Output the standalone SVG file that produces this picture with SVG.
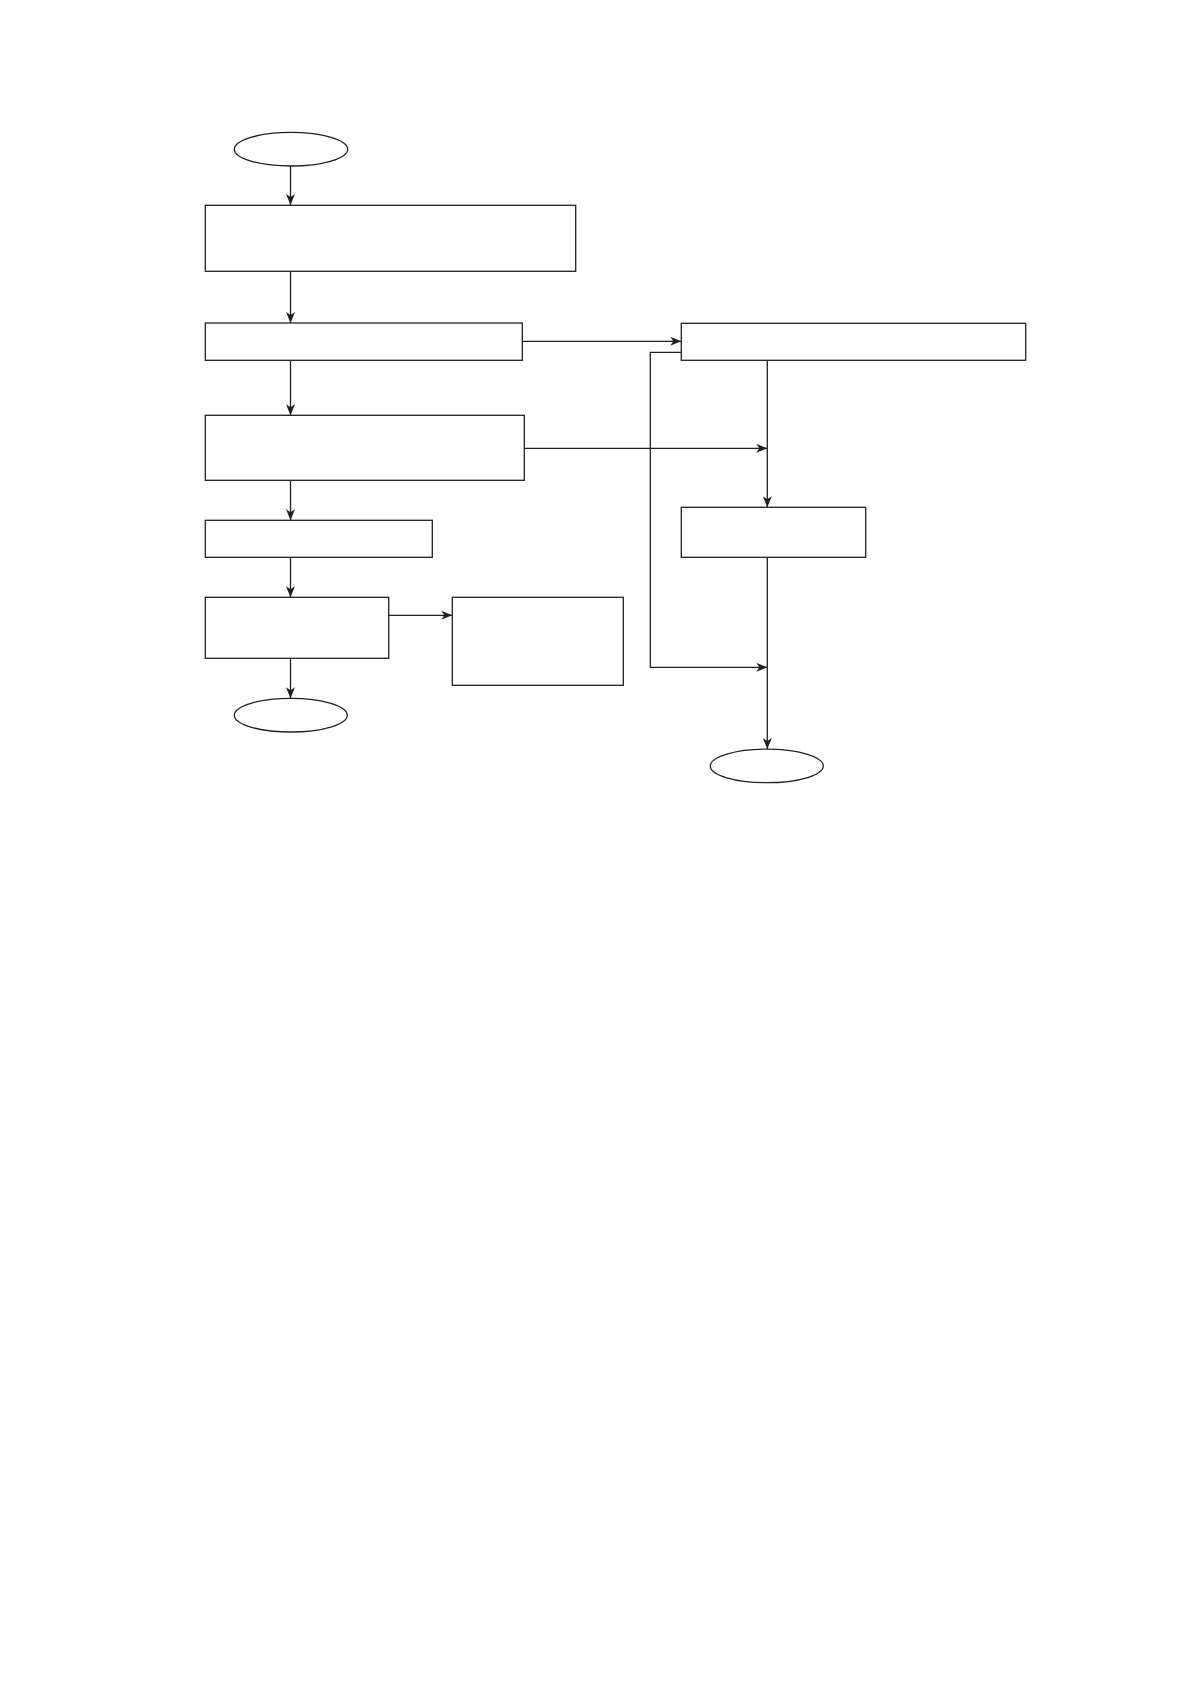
<svg xmlns="http://www.w3.org/2000/svg" width="1190" height="1684" viewBox="0 0 1190 1684">
<style>
.n{fill:#fff;stroke:#231f20;stroke-width:1.3}
.c{fill:none;stroke:#231f20;stroke-width:1.3}
</style>
<defs>
<marker id="ah" markerUnits="userSpaceOnUse" markerWidth="12" markerHeight="10" refX="11" refY="4.5" orient="auto">
<path d="M0,0 L11,4.5 L0,9 L3,4.5 z" fill="#231f20"/>
</marker>
</defs>
<rect width="1190" height="1684" fill="#fff"/>
<g id="connectors">
<line class="c" x1="290.5" y1="166" x2="290.5" y2="205" marker-end="url(#ah)"/>
<line class="c" x1="290.5" y1="271.3" x2="290.5" y2="323" marker-end="url(#ah)"/>
<line class="c" x1="290.5" y1="360.3" x2="290.5" y2="415.3" marker-end="url(#ah)"/>
<line class="c" x1="290.5" y1="480.3" x2="290.5" y2="520.3" marker-end="url(#ah)"/>
<line class="c" x1="290.5" y1="557.3" x2="290.5" y2="597.3" marker-end="url(#ah)"/>
<line class="c" x1="290.5" y1="658.3" x2="290.5" y2="698.3" marker-end="url(#ah)"/>
<line class="c" x1="388.7" y1="615.3" x2="452.3" y2="615.3" marker-end="url(#ah)"/>
<line class="c" x1="522.3" y1="341.3" x2="681.3" y2="341.3" marker-end="url(#ah)"/>
<line class="c" x1="524.3" y1="448.3" x2="767.3" y2="448.3" marker-end="url(#ah)"/>
<line class="c" x1="767.3" y1="360.3" x2="767.3" y2="507.3" marker-end="url(#ah)"/>
<polyline class="c" points="681.3,352.3 650.3,352.3 650.3,667.3 767.3,667.3" marker-end="url(#ah)"/>
<line class="c" x1="767.3" y1="557.3" x2="767.3" y2="749" marker-end="url(#ah)"/>
</g>
<g id="start"><ellipse class="n" cx="291" cy="149.2" rx="56.7" ry="16.8"/></g>
<g id="box1"><rect class="n" x="205.3" y="205.3" width="370.4" height="66"/></g>
<g id="box2"><rect class="n" x="205.3" y="323" width="317" height="37.3"/></g>
<g id="box3"><rect class="n" x="205.3" y="415.3" width="319" height="65"/></g>
<g id="box4"><rect class="n" x="205.3" y="520.3" width="227" height="37"/></g>
<g id="box5"><rect class="n" x="205.3" y="597.3" width="183.4" height="61"/></g>
<g id="box6"><rect class="n" x="452.3" y="597.3" width="171" height="88"/></g>
<g id="end1"><ellipse class="n" cx="290.8" cy="715.2" rx="56.5" ry="16.8"/></g>
<g id="box7"><rect class="n" x="681.3" y="323.3" width="344.4" height="37"/></g>
<g id="box8"><rect class="n" x="681.3" y="507.3" width="184.4" height="50"/></g>
<g id="end2"><ellipse class="n" cx="766.8" cy="765.9" rx="56.5" ry="16.8"/></g>
</svg>
